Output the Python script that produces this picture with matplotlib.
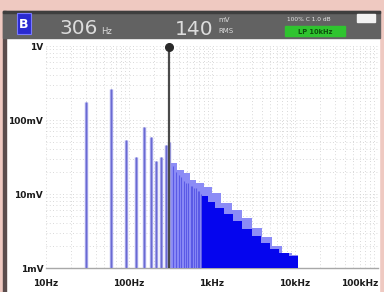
import matplotlib
matplotlib.use('Agg')
import matplotlib.pyplot as plt
from matplotlib.patches import Rectangle
from matplotlib.ticker import LogLocator, NullFormatter

# ---------------- data ----------------
harm_freqs_hz = [30.6, 61.2, 91.8, 122.4, 153.0, 183.6, 214.2, 244.8, 275.4, 306.0]
harm_volts = [0.175, 0.262, 0.054, 0.032, 0.080, 0.059, 0.028, 0.032, 0.046, 0.050]

env_edges_hz = [320, 375, 455, 545, 650, 800, 1000, 1300, 1750, 2300, 3000, 4000, 5300, 7000, 9200, 11000]
env_volts = [0.026, 0.021, 0.019, 0.0155, 0.014, 0.0124, 0.0103, 0.0076, 0.0061, 0.0047,
             0.0035, 0.0026, 0.0020, 0.0016, 0.0015]

dark_edges_hz = [750, 900, 1100, 1400, 1800, 2300, 3000, 3900, 5000, 6500, 8500, 11000]
dark_volts = [0.0094, 0.0078, 0.0065, 0.0054, 0.0043, 0.0034, 0.0027, 0.0022, 0.0018, 0.0016, 0.00145]

stripe_freqs_hz = [337, 367, 398, 428, 459, 490, 520, 551, 581, 612, 643, 673, 704, 734]
stripe_volts = [0.024, 0.020, 0.018, 0.017, 0.015, 0.014, 0.014, 0.013, 0.013, 0.012,
                0.012, 0.011, 0.011, 0.010]

cursor_hz = 306
ytick_vals = [1e-3, 1e-2, 1e-1, 1]
ytick_labels = ['1mV', '10mV', '100mV', '1V']
xtick_vals = [10, 100, 1000, 10000, 100000]
xtick_labels = ['10Hz', '100Hz', '1kHz', '10kHz', '100kHz']

# ---------------- figure ----------------
W, H = 384, 292
fig = plt.figure(figsize=(W / 100, H / 100), dpi=100)
fig.patch.set_facecolor('#efc9c1')

bg = fig.add_axes([0, 0, 1, 1])
bg.set_xlim(0, W)
bg.set_ylim(H, 0)
bg.axis('off')

bg.add_patch(Rectangle((5, 38), 374, 254, color='white', zorder=1))
bg.add_patch(Rectangle((3, 11), 2.5, 281, color='#5a4c4c', zorder=2))
bg.add_patch(Rectangle((3, 11), 377, 27, color='#626262', zorder=2))
bg.add_patch(Rectangle((3, 11), 377, 2, color='#3e3e3e', zorder=3))
bg.add_patch(Rectangle((17, 13), 14, 21, facecolor='#2a2ad0', edgecolor='#7a7aff', lw=0.8, zorder=3))
bg.text(24, 24, 'B', color='white', fontsize=9, fontweight='bold', ha='center', va='center', zorder=4)

bg.text(59, 34, '306', color='#dcdcdc', fontsize=14.5, ha='left', va='baseline', zorder=4)
bg.text(101, 34, 'Hz', color='#dcdcdc', fontsize=6, ha='left', va='baseline', zorder=4)
bg.text(175, 35, '140', color='#dcdcdc', fontsize=14.5, ha='left', va='baseline', zorder=4)
bg.text(218, 22, 'mV', color='#dcdcdc', fontsize=5, ha='left', va='baseline', zorder=4)
bg.text(218, 33, 'RMS', color='#dcdcdc', fontsize=5, ha='left', va='baseline', zorder=4)
bg.text(287, 21, '100% C 1.0 dB', color='#e6e6e6', fontsize=4.2, ha='left', va='baseline', zorder=4)
bg.add_patch(Rectangle((285, 26), 60, 10, color='#2fc42f', zorder=3))
bg.text(315, 31.5, 'LP 10kHz', color='#0c500c', fontsize=4.8, fontweight='bold',
        ha='center', va='center', zorder=4)
bg.add_patch(Rectangle((357, 14), 18, 8, color='#f2f2f2', zorder=3))

# ---------------- plot ----------------
ax = fig.add_axes([46 / W, 24 / H, 332 / W, 222 / H])
ax.set_xscale('log')
ax.set_yscale('log')
ax.set_xlim(10, 1e5)
ax.set_ylim(1e-3, 1)
ax.patch.set_alpha(0)
for s in ax.spines.values():
    s.set_visible(False)

ax.xaxis.set_minor_locator(LogLocator(base=10, subs=range(2, 10), numticks=20))
ax.yaxis.set_minor_locator(LogLocator(base=10, subs=range(2, 10), numticks=20))
ax.xaxis.set_minor_formatter(NullFormatter())
ax.yaxis.set_minor_formatter(NullFormatter())
ax.grid(which='both', color='#cdcdcd', lw=0.6, linestyle=(0, (1, 3)))
ax.set_axisbelow(True)

ax.set_xticks(xtick_vals, xtick_labels)
ax.set_yticks(ytick_vals, ytick_labels)
ax.tick_params(which='both', length=0)
ax.tick_params(axis='x', pad=8, labelsize=6.5)
ax.tick_params(axis='y', pad=2, labelsize=6.5)
for lab in ax.get_xticklabels() + ax.get_yticklabels():
    lab.set_fontweight('bold')
    lab.set_color('#1a1a1a')
xl = ax.get_xticklabels()
xl[-1].set_horizontalalignment('right')
xl[0].set_horizontalalignment('center')

ax.axhline(1e-3, color='#a8a8a8', lw=1.0, clip_on=False, zorder=2)

# envelope (light blue) and dense dark fill
ax.stairs(env_volts, env_edges_hz, baseline=1e-3, fill=True, color='#8c8cf6', zorder=3)
ax.vlines(stripe_freqs_hz, 1e-3, stripe_volts, color='#5a5ae6', lw=0.8, zorder=4)
ax.stairs(dark_volts, dark_edges_hz, baseline=1e-3, fill=True, color='#0505ee', zorder=5)

# low harmonics
ax.vlines(harm_freqs_hz, 1e-3, harm_volts, color='#a0a0e8', lw=2.4, zorder=4)
ax.vlines(harm_freqs_hz, 1e-3, harm_volts, color='#6a6ad2', lw=0.8, zorder=4)

# cursor
ax.vlines(cursor_hz, 1e-3, 0.98, color='#4a4a4a', lw=1.6, zorder=6)
ax.plot([cursor_hz], [0.98], marker='o', ms=5.5, color='#2a2a2a', clip_on=False, zorder=7)

fig.savefig('out.png', dpi=100, facecolor=fig.get_facecolor())
